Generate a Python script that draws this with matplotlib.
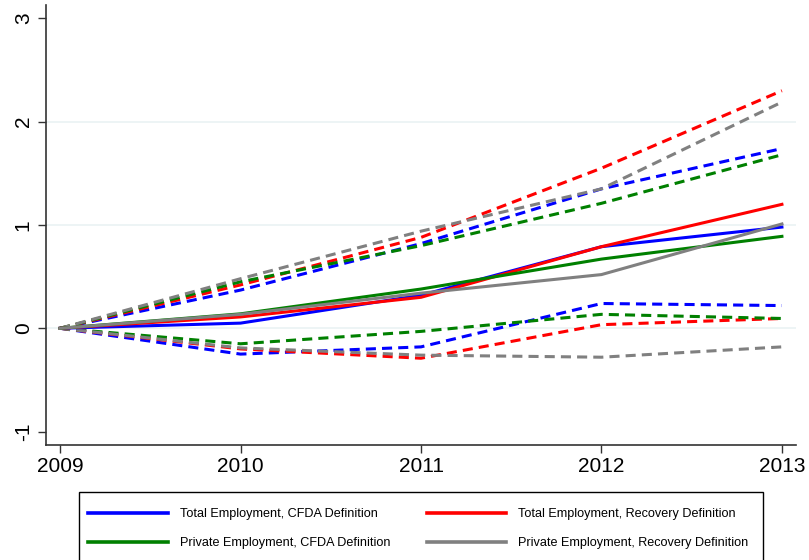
import matplotlib.pyplot as plt
from matplotlib.lines import Line2D
from matplotlib.patches import Rectangle

plt.rcParams['font.family'] = ['Liberation Sans', 'DejaVu Sans']
plt.rcParams['axes.unicode_minus'] = False

years = [2009, 2010, 2011, 2012, 2013]

# point estimates
total_cfda = [0, 0.05, 0.32, 0.79, 0.98]
total_recovery = [0, 0.11, 0.30, 0.79, 1.20]
private_cfda = [0, 0.14, 0.38, 0.67, 0.89]
private_recovery = [0, 0.135, 0.34, 0.52, 1.01]

# upper confidence bounds
total_cfda_hi = [0, 0.37, 0.82, 1.35, 1.74]
total_recovery_hi = [0, 0.42, 0.88, 1.55, 2.30]
private_cfda_hi = [0, 0.45, 0.80, 1.21, 1.68]
private_recovery_hi = [0, 0.48, 0.94, 1.35, 2.19]

# lower confidence bounds
total_cfda_lo = [0, -0.25, -0.18, 0.24, 0.22]
total_recovery_lo = [0, -0.20, -0.29, 0.035, 0.095]
private_cfda_lo = [0, -0.15, -0.03, 0.135, 0.095]
private_recovery_lo = [0, -0.19, -0.26, -0.28, -0.18]

labels = ['Total Employment, CFDA Definition',
          'Total Employment, Recovery Definition',
          'Private Employment, CFDA Definition',
          'Private Employment, Recovery Definition']
colors = ['#0000ff', '#ff0000', '#008000', '#808080']

series = [
    (total_cfda, total_cfda_hi, total_cfda_lo),
    (total_recovery, total_recovery_hi, total_recovery_lo),
    (private_cfda, private_cfda_hi, private_cfda_lo),
    (private_recovery, private_recovery_hi, private_recovery_lo),
]

W, H = 809, 560
fig = plt.figure(figsize=(W / 100, H / 100), dpi=100)
ax = fig.add_axes([46 / W, 115 / H, 750 / W, 440 / H])

for y in [0, 1, 2]:
    ax.axhline(y, color='#eaf2f3', lw=1.2, zorder=0)

dash = (0, (3.3, 2.0))
for (mid, hi, lo), c in zip(series, colors):
    ax.plot(years, hi, color=c, lw=2.2, linestyle=dash)
    ax.plot(years, lo, color=c, lw=2.2, linestyle=dash)
for (mid, hi, lo), c in zip(series, colors):
    ax.plot(years, mid, color=c, lw=2.2)

ax.set_xlim(2008.922, 2013.078)
ax.set_ylim(-1.13, 3.13)
ax.set_xticks(years)
ax.set_yticks([-1, 0, 1, 2, 3])
ax.tick_params(axis='both', labelsize=15, length=6, width=1, color='#333333', direction='out')
ax.tick_params(axis='x', pad=3)
for lab in ax.get_yticklabels():
    lab.set_rotation(90)
    lab.set_va('center')

for side in ['top', 'right']:
    ax.spines[side].set_visible(False)
for side in ['left', 'bottom']:
    ax.spines[side].set_color('#333333')
    ax.spines[side].set_linewidth(1.2)

# legend box runs off the bottom edge of the figure
fig.patches.append(Rectangle((79 / W, -6 / H), 684 / W, 74 / H,
                             transform=fig.transFigure, fill=False,
                             edgecolor='black', lw=1.0, clip_on=False))

# legend filled row by row: blue, red / green, gray
order = [0, 2, 1, 3]
handles = [Line2D([], [], color=colors[i], lw=2.6) for i in order]
leg = fig.legend(handles, [labels[i] for i in order], ncol=2, loc='upper left',
                 bbox_to_anchor=(88 / W, 1 - 508 / H),
                 fontsize=9.1, frameon=False, handlelength=6.3,
                 handletextpad=0.95, borderaxespad=0, borderpad=0,
                 labelspacing=1.35, columnspacing=2.9)

fig.savefig('out.png', dpi=100)
